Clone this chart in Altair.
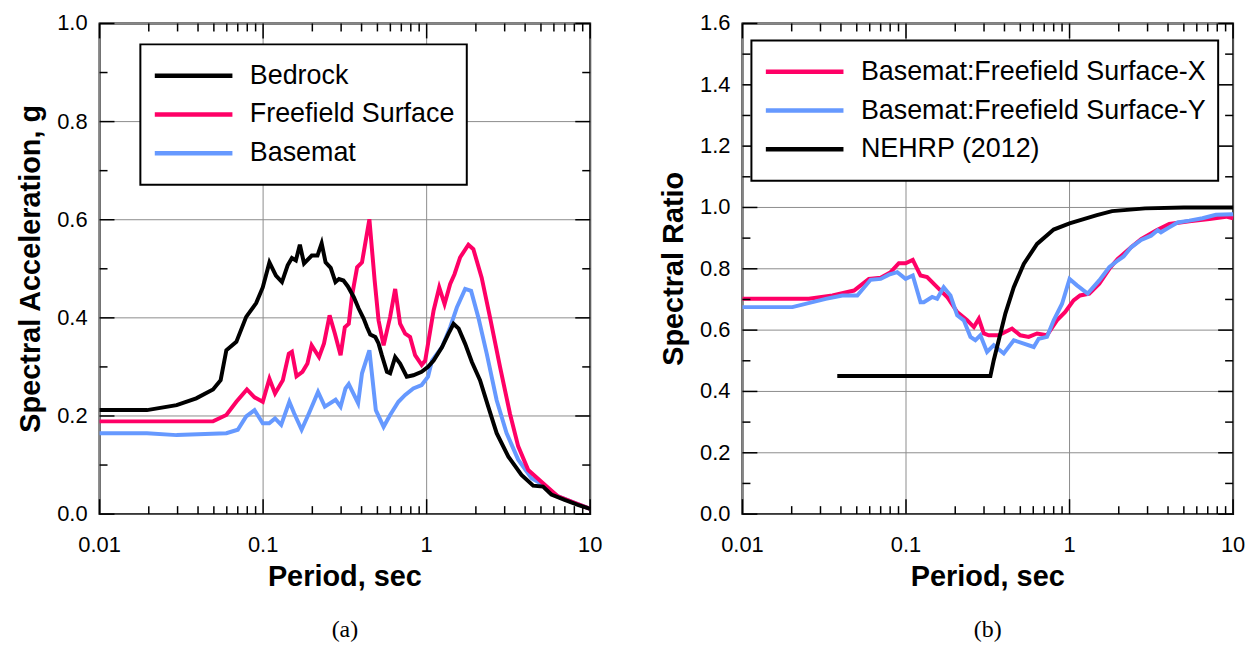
import altair as alt
import pandas as pd

# ---------------- Panel (a): spectral acceleration ----------------
T_bedrock = [0.01, 0.0195, 0.0296, 0.039, 0.0494, 0.055, 0.0596, 0.0686, 0.0788, 0.0907,
             0.0995, 0.1093, 0.1198, 0.1304, 0.1413, 0.150, 0.1586, 0.1678, 0.178, 0.1984,
             0.215, 0.228, 0.241, 0.259, 0.277, 0.291, 0.310, 0.330, 0.3587, 0.384,
             0.4124, 0.432, 0.452, 0.4855, 0.508, 0.532, 0.5715, 0.598, 0.642, 0.688,
             0.756, 0.8288, 0.932, 1.02, 1.103, 1.24, 1.36, 1.46, 1.57, 1.72,
             1.89, 2.12, 2.38, 2.68, 3.16, 3.80, 4.48, 5.15, 5.79, 6.98,
             8.41, 10.0]
SA_bedrock = [0.212, 0.212, 0.222, 0.236, 0.254, 0.273, 0.334, 0.351, 0.402, 0.430,
              0.462, 0.513, 0.486, 0.473, 0.507, 0.522, 0.517, 0.549, 0.511, 0.527,
              0.527, 0.552, 0.513, 0.502, 0.473, 0.479, 0.476, 0.464, 0.442, 0.419,
              0.398, 0.381, 0.366, 0.361, 0.348, 0.324, 0.290, 0.287, 0.320, 0.307,
              0.280, 0.283, 0.290, 0.300, 0.313, 0.340, 0.368, 0.388, 0.378, 0.347,
              0.310, 0.273, 0.219, 0.165, 0.117, 0.080, 0.058, 0.056, 0.040, 0.029,
              0.019, 0.0105]

T_free = [0.01, 0.0494, 0.0596, 0.0686, 0.0796, 0.0886, 0.0995, 0.1093, 0.1183, 0.132,
          0.1436, 0.150, 0.160, 0.174, 0.1867, 0.198, 0.2198, 0.2357, 0.255, 0.2746,
          0.2977, 0.316, 0.334, 0.350, 0.3757, 0.4025, 0.4465, 0.481, 0.508, 0.5455,
          0.598, 0.642, 0.688, 0.739, 0.792, 0.8497, 0.932, 0.98, 1.103, 1.194,
          1.287, 1.393, 1.48, 1.60, 1.80, 1.93, 2.17, 2.44, 2.81, 3.23,
          3.63, 4.18, 5.15, 6.36, 8.03, 10.0]
SA_free = [0.189, 0.189, 0.202, 0.229, 0.254, 0.238, 0.229, 0.276, 0.246, 0.273,
           0.327, 0.331, 0.281, 0.290, 0.307, 0.344, 0.320, 0.348, 0.405, 0.368,
           0.324, 0.381, 0.388, 0.446, 0.503, 0.513, 0.601, 0.476, 0.395, 0.344,
           0.402, 0.459, 0.388, 0.368, 0.361, 0.324, 0.304, 0.313, 0.415, 0.462,
           0.428, 0.469, 0.489, 0.523, 0.549, 0.540, 0.482, 0.401, 0.300, 0.205,
           0.138, 0.090, 0.063, 0.036, 0.023, 0.0105]

T_base = [0.01, 0.0195, 0.0296, 0.0596, 0.070, 0.0788, 0.0886, 0.0995, 0.109, 0.1183,
          0.129, 0.1447, 0.155, 0.172, 0.1905, 0.2167, 0.2385, 0.2775, 0.2977, 0.319,
          0.334, 0.381, 0.4025, 0.4465, 0.489, 0.5455, 0.598, 0.672, 0.739, 0.829,
          0.932, 1.02, 1.078, 1.24, 1.393, 1.53, 1.72, 1.87, 2.07, 2.33,
          2.68, 3.08, 3.63, 4.38, 5.15, 6.36, 8.03, 10.0]
SA_base = [0.165, 0.165, 0.161, 0.165, 0.172, 0.199, 0.212, 0.185, 0.185, 0.195,
           0.182, 0.229, 0.205, 0.172, 0.205, 0.249, 0.219, 0.233, 0.219, 0.256,
           0.265, 0.226, 0.287, 0.334, 0.212, 0.178, 0.202, 0.229, 0.243, 0.256,
           0.263, 0.280, 0.313, 0.340, 0.381, 0.421, 0.459, 0.455, 0.401, 0.327,
           0.232, 0.165, 0.111, 0.073, 0.060, 0.036, 0.023, 0.0105]

# ---------------- Panel (b): spectral ratio ----------------
T_ratioX = [0.01, 0.0255, 0.0355, 0.0481, 0.0593, 0.070, 0.0805, 0.0904, 0.0994, 0.110,
            0.1227, 0.1346, 0.155, 0.1786, 0.2056, 0.2366, 0.260, 0.2788, 0.299, 0.3206,
            0.369, 0.445, 0.500, 0.5625, 0.633, 0.728, 0.837, 0.941, 1.058, 1.16,
            1.32, 1.52, 1.75, 1.97, 2.38, 2.74, 3.4, 4.07, 5.4, 7.16,
            9.06, 10.0]
R_ratioX = [0.702, 0.702, 0.713, 0.729, 0.767, 0.771, 0.789, 0.818, 0.818, 0.829,
            0.778, 0.773, 0.740, 0.708, 0.659, 0.632, 0.610, 0.637, 0.589, 0.583,
            0.583, 0.605, 0.583, 0.578, 0.589, 0.583, 0.632, 0.659, 0.697, 0.713,
            0.719, 0.751, 0.800, 0.832, 0.870, 0.897, 0.926, 0.946, 0.955, 0.962,
            0.970, 0.965]

T_ratioY = [0.01, 0.0202, 0.0323, 0.0408, 0.0504, 0.0607, 0.070, 0.0787, 0.0884, 0.0994,
            0.110, 0.1227, 0.1285, 0.1445, 0.155, 0.170, 0.187, 0.2056, 0.2256, 0.2477,
            0.2656, 0.285, 0.313, 0.344, 0.396, 0.456, 0.525, 0.604, 0.648, 0.728,
            0.80, 0.90, 1.0, 1.11, 1.29, 1.52, 1.75, 1.97, 2.14, 2.38,
            2.74, 3.15, 3.46, 3.62, 4.07, 4.58, 5.4, 6.5, 7.85, 10.0]
R_ratioY = [0.675, 0.675, 0.702, 0.713, 0.713, 0.764, 0.767, 0.781, 0.789, 0.767,
            0.778, 0.691, 0.691, 0.708, 0.702, 0.740, 0.713, 0.648, 0.632, 0.578,
            0.567, 0.583, 0.529, 0.551, 0.524, 0.567, 0.556, 0.545, 0.572, 0.578,
            0.632, 0.686, 0.767, 0.746, 0.719, 0.762, 0.805, 0.827, 0.840, 0.870,
            0.894, 0.908, 0.926, 0.919, 0.935, 0.951, 0.957, 0.965, 0.976, 0.978]

T_nehrp = [0.038, 0.328, 0.344, 0.369, 0.405, 0.456, 0.525, 0.633, 0.80, 1.0,
           1.47, 1.82, 2.9, 5.0, 10.0]
R_nehrp = [0.45, 0.45, 0.502, 0.567, 0.654, 0.740, 0.816, 0.881, 0.928, 0.948,
           0.975, 0.988, 0.997, 1.0, 1.0]

# ---------------- axis ticks and tick labels ----------------
x_major = [0.01, 0.1, 1, 10]
x_labels = ["0.01", "0.1", "1", "10"]
x_minor = [m * d for d in [0.01, 0.1, 1] for m in range(2, 10)]
ya_major = [0.0, 0.2, 0.4, 0.6, 0.8, 1.0]
ya_labels = ["0.0", "0.2", "0.4", "0.6", "0.8", "1.0"]
ya_minor = [0.1, 0.3, 0.5, 0.7, 0.9]
yb_major = [0.0, 0.2, 0.4, 0.6, 0.8, 1.0, 1.2, 1.4, 1.6]
yb_labels = ["0.0", "0.2", "0.4", "0.6", "0.8", "1.0", "1.2", "1.4", "1.6"]
yb_minor = [0.1, 0.3, 0.5, 0.7, 0.9, 1.1, 1.3, 1.5]

names_a = ["Bedrock", "Freefield Surface", "Basemat"]
colors_a = ["#000000", "#ff0066", "#6699ff"]
names_b = ["Basemat:Freefield Surface-X", "Basemat:Freefield Surface-Y", "NEHRP (2012)"]
colors_b = ["#ff0066", "#6699ff", "#000000"]

x_title = "Period, sec"
ya_title = "Spectral Acceleration, g"
yb_title = "Spectral Ratio"

FONT = "Liberation Sans"
W = 493
H = 493
MAJOR_LEN = 15
MINOR_LEN = 8
GRID = "#8c8c8c"


def frame(series_list):
    rows = []
    for name, ts, vs in series_list:
        for t, v in zip(ts, vs):
            rows.append({"T": t, "V": v, "Series": name})
    return pd.DataFrame(rows)


# draw order: later series on top
df_a = frame([("Basemat", T_base, SA_base),
              ("Freefield Surface", T_free, SA_free),
              ("Bedrock", T_bedrock, SA_bedrock)])
df_b = frame([("Basemat:Freefield Surface-X", T_ratioX, R_ratioX),
              ("Basemat:Freefield Surface-Y", T_ratioY, R_ratioY),
              ("NEHRP (2012)", T_nehrp, R_nehrp)])


def panel(df, ydom, ymaj, ylab, ymin, ytitle, names, colors, lx, ly, caption):
    xs = alt.Scale(type="log", domain=[0.01, 10], nice=False)
    ys = alt.Scale(domain=ydom, nice=False, zero=False)
    X = lambda: alt.X("T:Q", scale=xs, axis=None)
    Y = lambda: alt.Y("V:Q", scale=ys, axis=None)

    xmaj_df = pd.DataFrame({"T": x_major, "label": x_labels})
    xmin_df = pd.DataFrame({"T": x_minor})
    ymaj_df = pd.DataFrame({"V": ymaj, "label": ylab})
    ymin_df = pd.DataFrame({"V": ymin})

    grid_x = alt.Chart(xmaj_df).mark_rule(color=GRID, strokeWidth=1).encode(
        x=X(), y=alt.value(0), y2=alt.value(H))
    grid_y = alt.Chart(ymaj_df).mark_rule(color=GRID, strokeWidth=1).encode(
        y=Y(), x=alt.value(0), x2=alt.value(W))

    lines = alt.Chart(df).mark_line(strokeWidth=4).encode(
        x=X(), y=Y(),
        color=alt.Color("Series:N",
                        scale=alt.Scale(domain=names, range=colors),
                        sort=names,
                        legend=alt.Legend(title=None, orient="none", legendX=lx, legendY=ly,
                                          symbolType="stroke", symbolSize=6084,
                                          symbolStrokeWidth=4.5, clipHeight=39,
                                          labelFontSize=27, labelFont=FONT,
                                          labelColor="black", labelOffset=15,
                                          labelLimit=600, padding=12, rowPadding=0,
                                          strokeColor="black", fillColor="white")),
        detail="Series:N",
    )

    def tick_rule(d):
        return alt.Chart(d).mark_rule(color="black", strokeWidth=1.5)

    tick_layers = []
    for d, ln in [(xmaj_df, MAJOR_LEN), (xmin_df, MINOR_LEN)]:
        tick_layers.append(tick_rule(d).encode(x=X(), y=alt.value(H), y2=alt.value(H - ln)))
        tick_layers.append(tick_rule(d).encode(x=X(), y=alt.value(0), y2=alt.value(ln)))
    for d, ln in [(ymaj_df, MAJOR_LEN), (ymin_df, MINOR_LEN)]:
        tick_layers.append(tick_rule(d).encode(y=Y(), x=alt.value(0), x2=alt.value(ln)))
        tick_layers.append(tick_rule(d).encode(y=Y(), x=alt.value(W), x2=alt.value(W - ln)))

    x_tick_labels = alt.Chart(xmaj_df).mark_text(
        font=FONT, fontSize=22, color="black", align="center", baseline="alphabetic"
    ).encode(x=X(), y=alt.value(H + 38), text="label:N")
    y_tick_labels = alt.Chart(ymaj_df).mark_text(
        font=FONT, fontSize=22, color="black", align="right", baseline="middle"
    ).encode(y=Y(), x=alt.value(-12), text="label:N")

    xt_df = pd.DataFrame({"title": [x_title]})
    yt_df = pd.DataFrame({"title": [ytitle]})
    x_axis_title = alt.Chart(xt_df).mark_text(
        font=FONT, fontSize=29, fontWeight="bold", color="black",
        align="center", baseline="alphabetic"
    ).encode(x=alt.value(W / 2), y=alt.value(H + 72), text="title:N")
    y_axis_title = alt.Chart(yt_df).mark_text(
        font=FONT, fontSize=29, fontWeight="bold", color="black",
        align="center", baseline="alphabetic", angle=270
    ).encode(x=alt.value(-60), y=alt.value(H / 2), text="title:N")

    layers = ([grid_x, grid_y, lines] + tick_layers
              + [x_tick_labels, y_tick_labels, x_axis_title, y_axis_title])
    return alt.layer(*layers).properties(
        width=W, height=H,
        title=alt.TitleParams(caption, orient="bottom", anchor="middle", frame="group",
                              font="Liberation Serif", fontSize=24, fontWeight="normal",
                              color="black", offset=26),
    )


left = panel(df_a, [0, 1.0], ya_major, ya_labels, ya_minor, ya_title,
             names_a, colors_a, 41, 21, "(a)")
right = panel(df_b, [0, 1.6], yb_major, yb_labels, yb_minor, yb_title,
              names_b, colors_b, 9, 17, "(b)")

chart = alt.hconcat(left, right, spacing=55).resolve_scale(
    x="independent", y="independent", color="independent"
).properties(
    padding={"left": 7, "top": 2, "right": 5, "bottom": 5}
).configure_view(
    stroke="black", strokeWidth=2
).configure_legend(
    strokeWidth=2
)

chart.save("out.html", embed_options={"renderer": "svg", "actions": False})
